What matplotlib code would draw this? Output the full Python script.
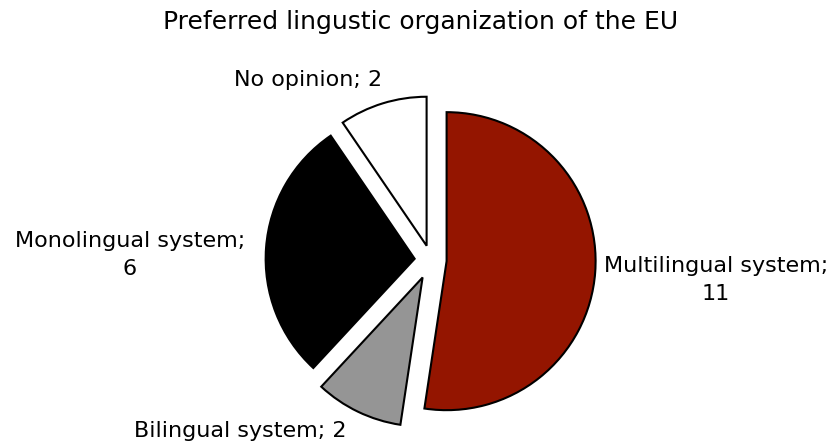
import matplotlib.pyplot as plt

# preferred linguistic organization of the EU, number of answers
categories = ["Multilingual system", "Bilingual system", "Monolingual system", "No opinion"]
counts = [11, 2, 6, 2]
colors = ["#941500", "#959595", "#000000", "#ffffff"]
explode = [0.105, 0.13, 0.11, 0.10]

# label anchor points (pixels, origin top-left)
label_xy = [(716, 280), (240, 431), (130, 255), (308, 80)]
label_text = [
    "Multilingual system;\n11",
    "Bilingual system; 2",
    "Monolingual system;\n6",
    "No opinion; 2",
]

W, H = 835, 443
fig = plt.figure(figsize=(W / 100, H / 100), dpi=100)
ax = fig.add_axes([0, 0, 1, 1])

r = 149
# pie explode is in data units, so scale it by the radius
ax.pie(counts, colors=colors, explode=[e * r for e in explode], startangle=90,
       counterclock=False, radius=r, center=(431, H - 260),
       wedgeprops=dict(edgecolor="black", linewidth=1.5))
ax.set_xlim(0, W)
ax.set_ylim(0, H)
ax.set_aspect("equal")
ax.axis("off")

for (x, y), txt in zip(label_xy, label_text):
    ax.text(x, H - y, txt, ha="center", va="center", fontsize=16,
            family="DejaVu Sans", linespacing=1.45)

ax.text(421, H - 22, "Preferred lingustic organization of the EU", ha="center",
        va="center", fontsize=18, family="DejaVu Sans")

fig.savefig("out.png", dpi=100)
